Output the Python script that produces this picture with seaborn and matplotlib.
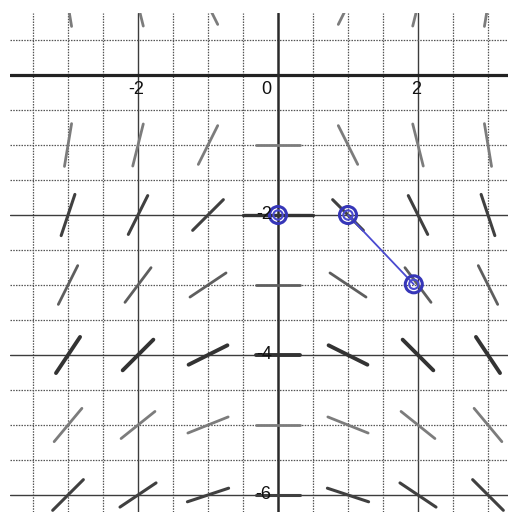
import numpy as np
import pandas as pd
import matplotlib
matplotlib.use("Agg")
import matplotlib.pyplot as plt
import seaborn as sns

# ---- data ----
x_pts = [-3, -2, -1, 0, 1, 2, 3]
y_rows = [1, -1, -2, -3, -4, -5, -6]
slopes_y1 = [-6, -4, -2, 0, 2, 4, 6]
slopes_ym1 = [6, 4, 2, 0, -2, -4, -6]
slopes_ym2 = [3, 2, 1, 0, -1, -2, -3]
slopes_ym3 = [2, 1.33, 0.67, 0, -0.67, -1.33, -2]
slopes_ym4 = [1.5, 1, 0.5, 0, -0.5, -1, -1.5]
slopes_ym5 = [1.2, 0.8, 0.4, 0, -0.4, -0.8, -1.2]
slopes_ym6 = [1, 0.67, 0.33, 0, -0.33, -0.67, -1]
row_slopes = [slopes_y1, slopes_ym1, slopes_ym2, slopes_ym3,
              slopes_ym4, slopes_ym5, slopes_ym6]
row_shade = ["light", "light", "dark", "mid", "heavy", "light", "dark"]

# hand-drawn Euler steps (blue)
euler_x = [0, 1, 1.94]
euler_y = [-2, -2, -2.99]
# hand-drawn longer horizontal stroke at (0,-2)
stroke_x = [-0.5, 0.5]
stroke_y = [-2, -2]

xtick_vals = [-2, 0, 2]
xtick_labels = ["-2", "0", "2"]
ytick_vals = [-2, -4, -6]
ytick_labels = ["-2", "-4", "-6"]

# ---- build segment table ----
half = 0.31
rows = []
sid = 0
for yv, sl, sh in zip(y_rows, row_slopes, row_shade):
    for xv, m in zip(x_pts, sl):
        dx = half / np.sqrt(1 + m * m)
        dy = m * dx
        rows.append(dict(seg=sid, x=xv - dx, y=yv - dy, shade=sh))
        rows.append(dict(seg=sid, x=xv + dx, y=yv + dy, shade=sh))
        sid += 1
seg_df = pd.DataFrame(rows)

sns.set_style("white")
plt.rcParams["font.family"] = ["Liberation Sans", "DejaVu Sans"]

fig = plt.figure(figsize=(5.08, 5.12), dpi=100)
ax = fig.add_axes([10 / 508, 0, 498 / 508, 499 / 512])
ax.set_xlim(-3.829, 3.286)
ax.set_ylim(-6.243, 0.886)
for s in ax.spines.values():
    s.set_visible(False)
ax.set_xticks([])
ax.set_yticks([])

# grid
for v in np.arange(-3.5, 3.6, 0.5):
    if v == 0:
        continue
    if v in (-2, 2):
        ax.axvline(v, color="#3c3c3c", lw=1.0, zorder=1)
    else:
        ax.axvline(v, color="#555555", lw=0.9, ls=(0, (1.2, 1.0)), zorder=1)
for v in np.arange(-6.5, 1.0, 0.5):
    if v == 0:
        continue
    if v in (-2, -4, -6):
        ax.axhline(v, color="#3c3c3c", lw=1.0, zorder=1)
    else:
        ax.axhline(v, color="#555555", lw=0.9, ls=(0, (1.2, 1.0)), zorder=1)

# axes
ax.axhline(0, color="#222222", lw=2.3, zorder=2)
ax.axvline(0, color="#2a2a2a", lw=1.8, zorder=2)

# slope segments
palette = {"light": "#7c7c7c", "mid": "#5e5e5e", "dark": "#404040", "heavy": "#333333"}
sizes = {"light": 2.0, "mid": 2.0, "dark": 2.2, "heavy": 2.8}
sns.lineplot(data=seg_df, x="x", y="y", units="seg", estimator=None,
             hue="shade", palette=palette, size="shade", sizes=sizes,
             sort=False, legend=False, ax=ax, zorder=3,
             solid_capstyle="round")
sns.lineplot(x=stroke_x, y=stroke_y, color="#333333", lw=2.4,
             estimator=None, sort=False, ax=ax, zorder=3)

# blue hand-drawn Euler path
sns.lineplot(x=euler_x[1:], y=euler_y[1:], color="#4a4ad0", lw=1.3,
             estimator=None, sort=False, ax=ax, zorder=4)
sns.scatterplot(x=euler_x, y=euler_y, marker="o", s=150, facecolors="none",
                edgecolor="#3636b8", linewidth=2.2, ax=ax, zorder=5)
sns.scatterplot(x=euler_x, y=euler_y, marker="o", s=45, facecolors="none",
                edgecolor="#4a4ad0", linewidth=1.5, ax=ax, zorder=5)

# tick labels printed inside the grid
for v, lab in zip(xtick_vals, xtick_labels):
    xx = v - 0.16 if v == 0 else v - 0.02
    ax.text(xx, -0.2, lab, ha="center", va="center", fontsize=13,
            color="#111111", zorder=6)
for v, lab in zip(ytick_vals, ytick_labels):
    ax.text(-0.09, v + 0.01, lab, ha="right", va="center", fontsize=13,
            color="#111111", zorder=6)

fig.savefig("out.png", dpi=100)
